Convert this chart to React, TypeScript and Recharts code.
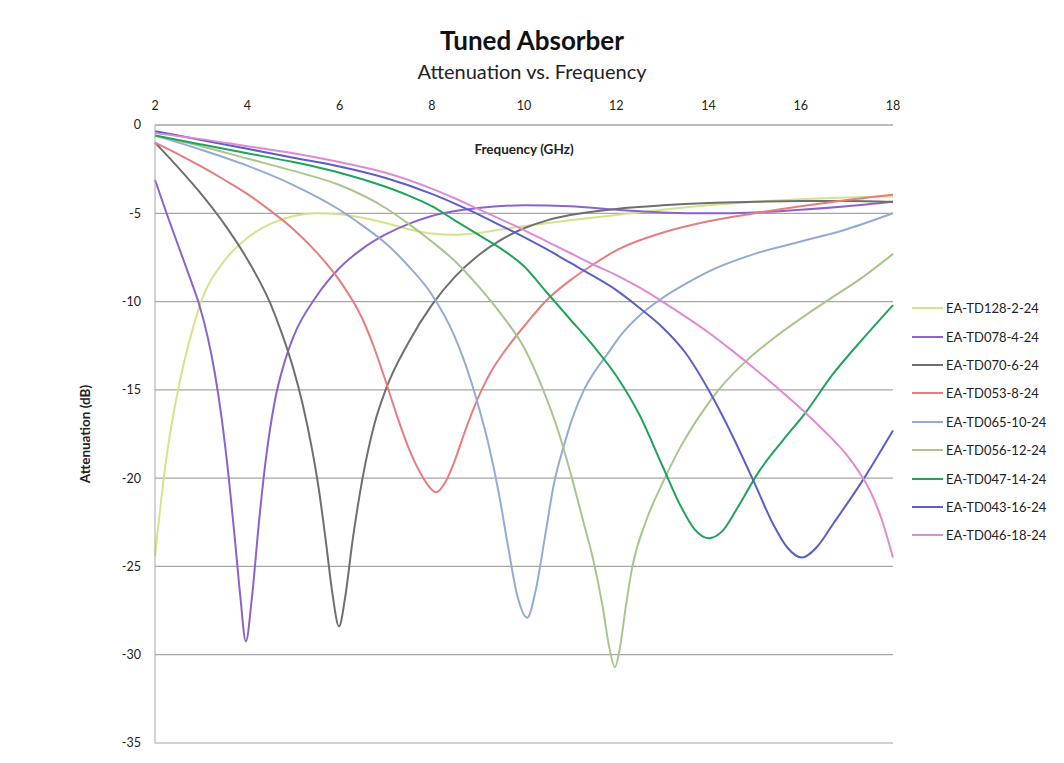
import React from "react"
import { LineChart, Line, XAxis, YAxis, CartesianGrid, Legend } from "recharts"

type Pt = [number, number]

// frequency (GHz), attenuation (dB)
const td128: Pt[] = [
  [2, -24.4], [2.25, -18.8], [2.5, -15.0], [2.75, -12.2], [3, -10.0], [3.5, -7.7], [4, -6.4],
  [4.5, -5.6], [5, -5.15], [5.5, -5.0], [6, -5.05], [6.5, -5.25], [7, -5.55], [7.5, -5.9],
  [8, -6.15], [8.5, -6.22], [9, -6.12], [9.5, -5.92], [10, -5.72], [11, -5.4], [12, -5.1],
  [13, -4.8], [14, -4.55], [15, -4.35], [16, -4.2], [17, -4.1], [18, -4.05],
]
const td078: Pt[] = [
  [2, -3.1], [2.25, -5.0], [2.5, -6.8], [2.75, -8.6], [2.95, -10.1], [3.15, -12.1], [3.3, -14.1],
  [3.45, -16.7], [3.6, -20.0], [3.73, -23.4], [3.85, -26.7], [3.97, -29.25], [4.1, -26.8],
  [4.25, -22.6], [4.4, -19.0], [4.6, -15.6], [4.8, -13.5], [5, -12.0], [5.5, -9.7], [6, -8.1],
  [6.5, -7.0], [7, -6.2], [7.5, -5.6], [8, -5.15], [9, -4.7], [10, -4.55], [11, -4.6],
  [12, -4.8], [13, -4.95], [14, -5.0], [15, -4.95], [16, -4.8], [17, -4.6], [18, -4.35],
]
const td070: Pt[] = [
  [2, -1.0], [2.5, -2.4], [3, -3.9], [3.5, -5.6], [4, -7.6], [4.5, -10.1], [4.75, -11.8],
  [5, -13.8], [5.2, -15.8], [5.4, -18.3], [5.55, -20.6], [5.7, -23.5], [5.85, -26.6],
  [5.99, -28.4], [6.12, -26.8], [6.28, -23.6], [6.5, -20.0], [6.75, -17.0], [7, -15.0],
  [7.5, -12.3], [8, -10.2], [8.5, -8.6], [9, -7.4], [9.5, -6.5], [10, -5.85], [10.5, -5.4],
  [11, -5.1], [12, -4.75], [13, -4.55], [14, -4.42], [15, -4.35], [16, -4.3], [17, -4.3],
  [18, -4.35],
]
const td053: Pt[] = [
  [2, -1.0], [2.5, -1.65], [3, -2.35], [3.5, -3.1], [4, -3.9], [4.5, -4.85], [5, -5.9],
  [5.5, -7.2], [6, -8.8], [6.5, -11.0], [6.75, -12.6], [7, -14.5], [7.25, -16.5], [7.5, -18.3],
  [7.75, -19.7], [7.95, -20.5], [8.09, -20.8], [8.3, -20.2], [8.5, -19.0], [8.7, -17.5],
  [8.9, -16.1], [9.1, -14.9], [9.3, -13.9], [9.5, -13.1], [10, -11.4], [10.5, -9.9], [11, -8.8],
  [11.5, -7.9], [12, -7.1], [13, -6.1], [14, -5.45], [15, -5.0], [16, -4.6], [17, -4.25],
  [18, -3.95],
]
const td065: Pt[] = [
  [2, -0.6], [3, -1.4], [4, -2.3], [5, -3.4], [6, -4.8], [6.5, -5.7], [7, -6.7], [7.5, -8.0],
  [8, -9.6], [8.5, -12.0], [8.75, -13.7], [9, -15.8], [9.25, -18.3], [9.45, -20.8], [9.65, -23.8],
  [9.85, -26.6], [10.07, -27.9], [10.25, -26.4], [10.45, -23.4], [10.65, -20.3], [10.85, -18.3],
  [11.05, -16.6], [11.3, -15.0], [11.55, -13.9], [11.8, -13.0], [12.1, -11.9], [12.5, -10.8],
  [13, -9.8], [13.5, -9.0], [14, -8.3], [15, -7.3], [16, -6.6], [17, -5.9], [18, -5.0],
]
const td056: Pt[] = [
  [2, -0.6], [3, -1.2], [4, -1.9], [5, -2.6], [6, -3.4], [7, -4.7], [7.5, -5.6], [8, -6.6],
  [8.5, -7.7], [9, -9.1], [9.5, -10.7], [10, -12.6], [10.4, -14.9], [10.75, -17.4], [11.05, -20.1],
  [11.3, -22.6], [11.5, -24.6], [11.7, -27.2], [11.85, -29.6], [11.97, -30.7], [12.08, -29.6],
  [12.2, -27.4], [12.35, -25.0], [12.65, -22.4], [13, -20.3], [13.4, -18.2], [13.8, -16.5],
  [14.25, -14.9], [14.8, -13.4], [15.5, -11.9], [16.2, -10.6], [16.6, -9.9], [17.3, -8.7],
  [18, -7.3],
]
const td047: Pt[] = [
  [2, -0.6], [3, -1.1], [4, -1.6], [5, -2.1], [6, -2.7], [7, -3.5], [7.5, -4.0], [8, -4.6],
  [8.5, -5.4], [9, -6.2], [9.5, -7.0], [10, -8.0], [10.5, -9.5], [11, -11.0], [11.5, -12.5],
  [12, -14.2], [12.5, -16.4], [13, -19.3], [13.4, -21.6], [13.7, -22.9], [14, -23.4],
  [14.3, -23.0], [14.6, -21.8], [15.1, -19.6], [15.6, -17.9], [16.1, -16.3], [16.7, -14.1],
  [17.35, -12.1], [18, -10.2],
]
const td043: Pt[] = [
  [2, -0.35], [3, -0.85], [4, -1.35], [5, -1.85], [6, -2.35], [7, -3.0], [8, -3.9], [8.5, -4.45],
  [9, -5.05], [9.5, -5.7], [10, -6.35], [10.5, -7.05], [11, -7.8], [11.5, -8.55], [12, -9.35],
  [12.5, -10.35], [13, -11.45], [13.5, -12.9], [14, -15.0], [14.5, -17.5], [15, -20.3],
  [15.4, -22.6], [15.7, -23.9], [16.02, -24.5], [16.35, -23.9], [16.7, -22.6], [17.35, -20.1],
  [18, -17.3],
]
const td046: Pt[] = [
  [2, -0.46], [3, -0.8], [4, -1.2], [5, -1.6], [6, -2.1], [7, -2.7], [8, -3.6], [8.5, -4.15],
  [9, -4.75], [9.5, -5.35], [10, -5.95], [10.5, -6.6], [11, -7.25], [11.5, -7.9], [12, -8.5],
  [12.5, -9.2], [13, -10.0], [13.5, -10.85], [14, -11.75], [14.5, -12.75], [15, -13.8],
  [15.5, -14.9], [16, -16.05], [16.5, -17.3], [17, -18.7], [17.25, -19.6], [17.5, -20.7],
  [17.75, -22.3], [18, -24.5],
]

const xTicks = [2, 4, 6, 8, 10, 12, 14, 16, 18]
const yTicks = [0, -5, -10, -15, -20, -25, -30, -35]

const series = [
  { name: "EA-TD128-2-24", color: "#d6e28c", points: td128 },
  { name: "EA-TD078-4-24", color: "#8b63cf", points: td078 },
  { name: "EA-TD070-6-24", color: "#6f6f6f", points: td070 },
  { name: "EA-TD053-8-24", color: "#e77d7d", points: td053 },
  { name: "EA-TD065-10-24", color: "#93abd6", points: td065 },
  { name: "EA-TD056-12-24", color: "#a8c68c", points: td056 },
  { name: "EA-TD047-14-24", color: "#20a35a", points: td047 },
  { name: "EA-TD043-16-24", color: "#5b5fc7", points: td043 },
  { name: "EA-TD046-18-24", color: "#e08ad4", points: td046 },
]

const font = "Lato, 'Open Sans', sans-serif"
const grid = "#a6a6a6"

function LegendList() {
  return (
    <div style={{ width: 150, fontFamily: font, fontSize: 13, color: "#222" }}>
      {series.map((s) => (
        <div key={s.name} style={{ height: 28.4, display: "flex", alignItems: "center" }}>
          <svg width={38} height={4} style={{ flex: "none" }}>
            <line x1={7} y1={2} x2={38} y2={2} stroke={s.color} strokeWidth={2} />
          </svg>
          <span style={{ marginLeft: 3 }}>{s.name}</span>
        </div>
      ))}
    </div>
  )
}

export default function App() {
  return (
    <div style={{ position: "absolute", left: 0, top: 0, width: 1064, height: 763, background: "#fff", fontFamily: font }}>
      <div style={{ position: "absolute", left: 0, width: 1064, top: 24, textAlign: "center", fontSize: 26, fontWeight: 700, color: "#111" }}>
        Tuned Absorber
      </div>
      <div style={{ position: "absolute", left: 0, width: 1064, top: 59, textAlign: "center", fontSize: 20, color: "#222" }}>
        Attenuation vs. Frequency
      </div>
      <LineChart width={1064} height={763} margin={{ top: 95, right: 21, bottom: 20, left: 0 }}>
        <CartesianGrid vertical={false} stroke={grid} strokeWidth={1.2} />
        <XAxis
          dataKey="f"
          type="number"
          orientation="top"
          domain={[2, 18]}
          ticks={xTicks}
          height={30}
          tickLine={false}
          tickSize={6}
          tickMargin={9}
          axisLine={{ stroke: grid }}
          tick={{ fontSize: 12.5, fill: "#222", fontFamily: font }}
          label={{ value: "Frequency (GHz)", position: "bottom", offset: 19, fontSize: 13.5, fontWeight: 700, fill: "#222", fontFamily: font }}
        />
        <YAxis
          type="number"
          domain={[-35, 0]}
          ticks={yTicks}
          width={155}
          tickLine={false}
          tickSize={6}
          tickMargin={8}
          axisLine={{ stroke: grid }}
          tick={{ fontSize: 12.5, fill: "#222", fontFamily: font }}
          label={{ value: "Attenuation (dB)", angle: -90, position: "center", dx: 8, fontSize: 13.5, fontWeight: 700, fill: "#222", fontFamily: font }}
        />
        <Legend
          layout="vertical"
          align="right"
          verticalAlign="middle"
          wrapperStyle={{ left: 905, top: 294, width: 150 }}
          content={() => <LegendList />}
        />
        {series.map((s) => (
          <Line
            key={s.name}
            name={s.name}
            data={s.points.map(([f, db]) => ({ f, db }))}
            dataKey="db"
            type="monotone"
            stroke={s.color}
            strokeWidth={2}
            dot={false}
            activeDot={false}
            isAnimationActive={false}
          />
        ))}
      </LineChart>
    </div>
  )
}
